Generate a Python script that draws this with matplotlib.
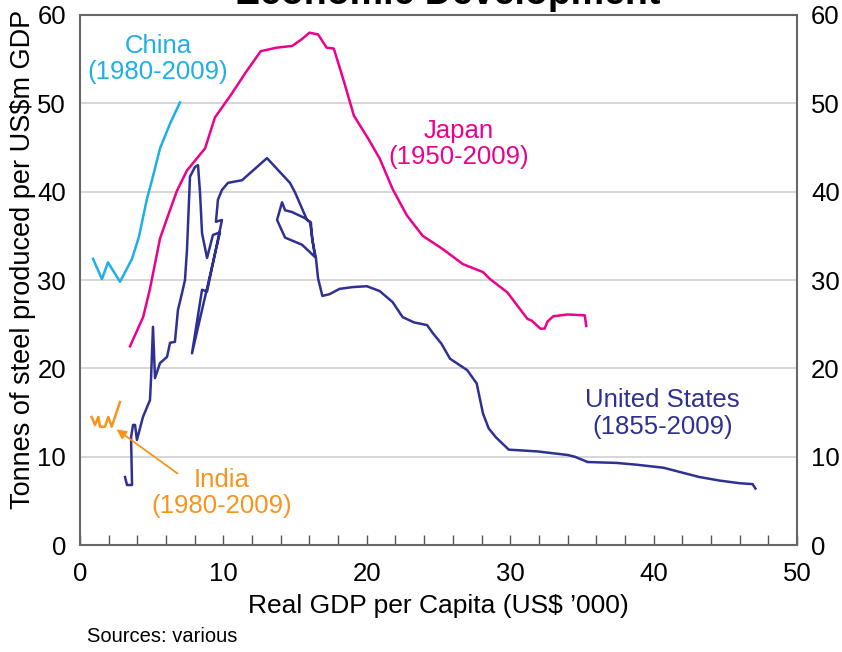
import matplotlib
matplotlib.use("Agg")
import matplotlib.pyplot as plt

plt.rcParams['font.family'] = ['Liberation Sans', 'DejaVu Sans']

# ---- data ----
china_x = [0.91, 1.53, 1.95, 2.79, 3.63, 4.11, 4.67, 5.02, 5.58, 6.28, 6.97]
china_y = [32.4, 30.1, 32.0, 29.8, 32.4, 34.9, 39.2, 41.3, 44.9, 47.7, 50.1]

japan_x = [3.49, 4.4, 4.88, 5.58, 6.14, 6.76, 7.46, 8.72, 9.41, 10.5, 11.6, 12.6,
           13.7, 14.8, 15.5, 16.0, 16.6, 17.2, 17.7, 18.4, 19.1, 20.1, 20.9, 21.8,
           22.8, 23.9, 25.3, 26.7, 28.1, 28.6, 29.8, 31.2, 31.5, 32.1, 32.4, 32.6,
           33.0, 34.0, 35.2, 35.3]
japan_y = [22.5, 25.8, 29.0, 34.7, 37.3, 40.1, 42.4, 44.9, 48.4, 50.9, 53.6, 55.9,
           56.3, 56.5, 57.3, 58.0, 57.8, 56.3, 56.2, 52.5, 48.6, 46.0, 43.75, 40.3,
           37.3, 35.0, 33.5, 31.8, 30.9, 30.1, 28.6, 25.6, 25.4, 24.5, 24.5, 25.3,
           25.9, 26.1, 26.0, 24.8]

us_x = [3.14, 3.28, 3.63, 3.56, 3.70, 3.84, 3.97, 4.39, 4.88, 4.95, 5.09, 5.23,
        5.58, 6.07, 6.28, 6.62, 6.83, 7.11, 7.32, 7.46, 7.67, 8.02, 8.23, 8.37,
        8.51, 8.86, 9.27, 9.76, 7.81, 8.51, 8.86, 9.90, 9.48, 9.62, 9.90, 10.32,
        11.3, 13.04, 14.64, 15.0, 15.83, 16.04, 16.18, 16.39, 15.48, 14.3, 13.74,
        14.09, 14.3, 14.78, 15.69, 16.1, 16.2, 16.45, 16.6, 16.9, 17.4, 18.1,
        19.0, 20.0, 20.9, 21.8, 22.5, 23.3, 24.2, 24.6, 25.2, 25.8, 27.0, 27.66,
        28.1, 28.5, 29.0, 29.9, 31.9, 34.0, 34.5, 35.4, 37.4, 38.8, 40.7, 42.0,
        43.2, 44.6, 46.0, 46.9, 47.1]
us_y = [7.7, 6.8, 6.8, 12.2, 13.6, 13.6, 11.9, 14.5, 16.4, 18.7, 24.7, 18.9,
        20.6, 21.3, 22.9, 23.0, 26.6, 28.5, 30.0, 33.4, 41.7, 42.8, 43.0, 39.9,
        35.3, 32.5, 35.1, 35.4, 21.7, 28.9, 28.7, 36.8, 36.6, 39.1, 40.2, 41.0,
        41.3, 43.8, 41.0, 39.9, 36.8, 36.6, 34.9, 32.6, 34.0, 34.8, 36.8,
        38.8, 37.9, 37.7, 37.0, 36.5, 34.5, 32.5, 30.2, 28.2, 28.4, 29.0,
        29.2, 29.3, 28.75, 27.5, 25.8, 25.2, 24.9, 24.0, 22.8, 21.1, 19.8, 18.3,
        14.9, 13.2, 12.2, 10.8, 10.6, 10.2, 10.0, 9.4, 9.3, 9.1, 8.75, 8.2,
        7.7, 7.3, 7.0, 6.9, 6.4]

india_x = [0.81, 1.05, 1.28, 1.39, 1.74, 1.97, 2.21, 2.79]
india_y = [14.5, 13.6, 14.5, 13.4, 13.4, 14.5, 13.4, 16.2]

x_ticks = [0, 10, 20, 30, 40, 50]
y_ticks = [0, 10, 20, 30, 40, 50, 60]

# ---- colours ----
c_china = '#1EAFE6'
c_japan = '#EC008C'
c_us = '#2E3192'
c_india = '#F7941D'

fig = plt.figure(figsize=(8.42, 6.52), dpi=100)
ax = fig.add_axes([0.095, 0.164, 0.8516, 0.813])

ax.set_xlim(0, 50)
ax.set_ylim(0, 60)

for yv in y_ticks[1:-1]:
    ax.axhline(yv, color='#d3d3d3', lw=1.3, zorder=0)

lw = 1.8
ax.plot(china_x, china_y, color=c_china, lw=lw)
ax.plot(japan_x, japan_y, color=c_japan, lw=lw)
ax.plot(us_x, us_y, color=c_us, lw=lw)
ax.plot(india_x, india_y, color=c_india, lw=lw)

lab = 18.5
ax.text(5.45, 55.0, 'China\n(1980-2009)', color=c_china, ha='center', va='center',
        fontsize=lab, linespacing=1.13)
ax.text(26.4, 45.4, 'Japan\n(1950-2009)', color=c_japan, ha='center', va='center',
        fontsize=lab, linespacing=1.13)
ax.text(40.6, 14.9, 'United States\n(1855-2009)', color=c_us, ha='center', va='center',
        fontsize=lab, linespacing=1.2)
ax.text(9.9, 5.9, 'India\n(1980-2009)', color=c_india, ha='center', va='center',
        fontsize=lab, linespacing=1.1)
ax.annotate('', xy=(2.55, 13.1), xytext=(6.8, 8.1),
            arrowprops=dict(arrowstyle='-|>', color=c_india, lw=1.3,
                            mutation_scale=14, shrinkA=0, shrinkB=0))

ax.set_xticks(x_ticks)
ax.set_xticks(list(range(0, 51, 2)), minor=True)
ax.set_yticks(y_ticks)
ax.tick_params(axis='x', which='both', direction='in', length=7, width=1,
               color='#555555', labelsize=18.5, pad=12, top=False)
ax.tick_params(axis='y', which='both', length=0, labelsize=18.5, pad=10,
               labelright=True, right=False, left=False)

for s in ax.spines.values():
    s.set_color('#666666')
    s.set_linewidth(1.5)

ax.set_xlabel("Real GDP per Capita (US$ \u2019000)", fontsize=19, labelpad=6)
ax.set_ylabel("Tonnes of steel produced per US$m GDP", fontsize=19.5)
ax.yaxis.set_label_coords(-0.062, 0.538)

fig.text(0.103, 0.024, 'Sources: various', fontsize=14.5, ha='left', va='center')
fig.text(0.532, 1 - 4.5 / 652, 'Economic Development', fontsize=27, fontweight='bold',
         ha='center', va='baseline')

fig.savefig('out.png', dpi=100)
